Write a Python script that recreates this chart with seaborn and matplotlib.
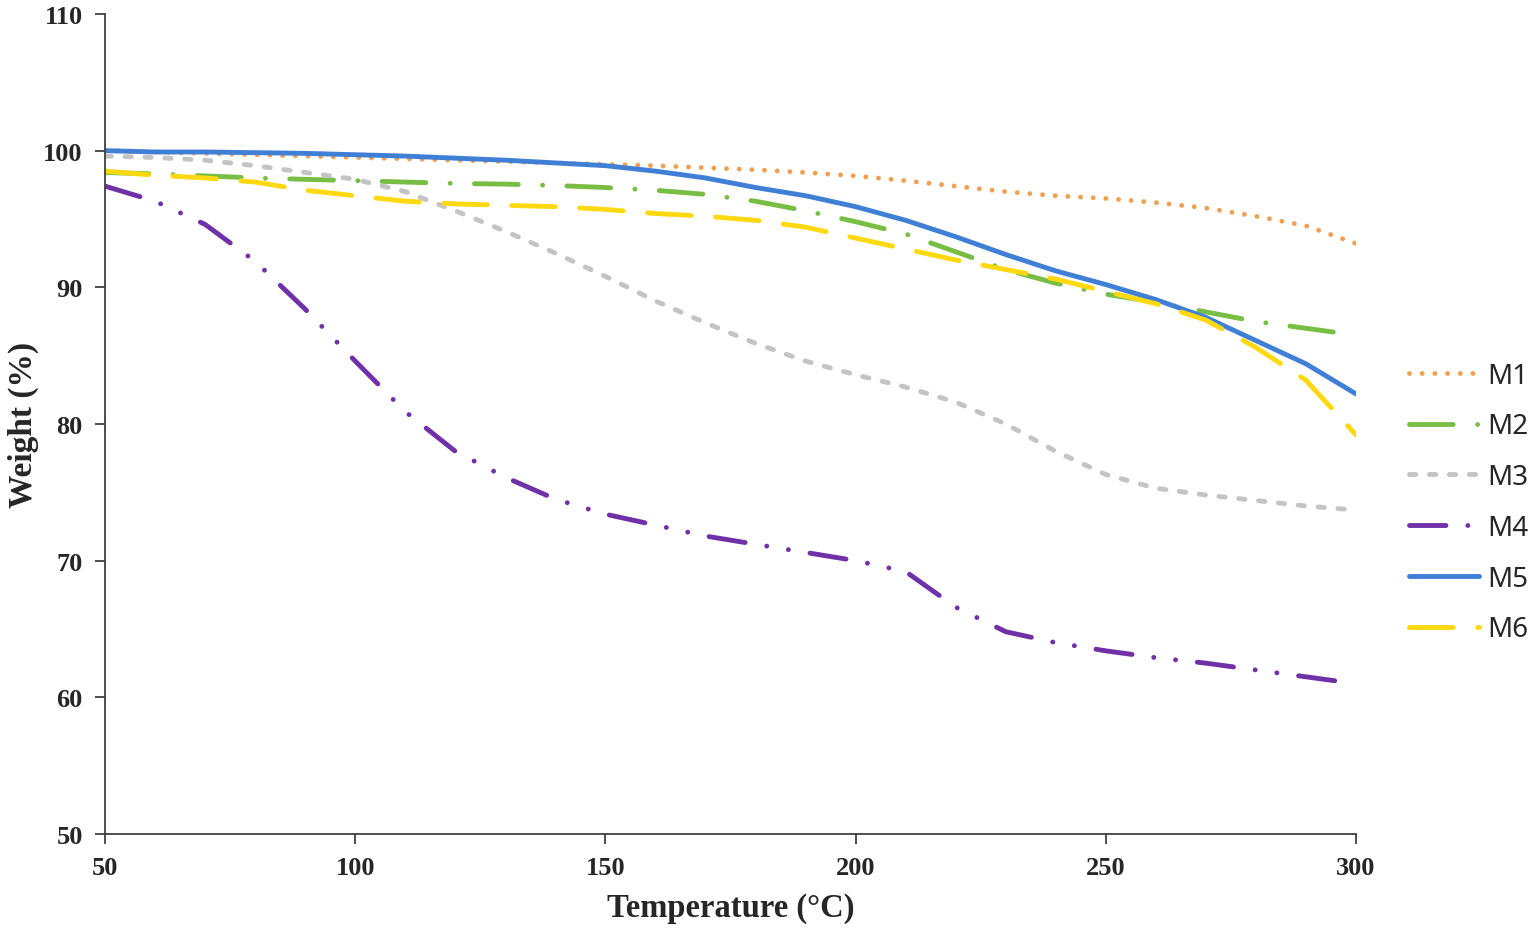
import matplotlib
matplotlib.use("Agg")
import matplotlib.pyplot as plt
import numpy as np
import pandas as pd
import seaborn as sns

# temperature (°C) and weight (%)
temp = [50, 60, 70, 80, 90, 100, 110, 120, 130, 140, 150, 160, 170,
        180, 190, 200, 210, 220, 230, 240, 250, 260, 270, 280, 290, 300]

m1 = [100.0, 99.9, 99.8, 99.7, 99.6, 99.5, 99.4, 99.3, 99.2, 99.1, 99.0, 98.9, 98.75,
      98.6, 98.4, 98.15, 97.8, 97.4, 97.0, 96.7, 96.5, 96.2, 95.8, 95.2, 94.5, 93.2]
m2 = [98.4, 98.3, 98.15, 98.0, 97.9, 97.8, 97.7, 97.6, 97.55, 97.45, 97.3, 97.1, 96.8,
      96.3, 95.6, 94.8, 93.9, 92.6, 91.3, 90.3, 89.5, 88.9, 88.2, 87.5, 87.0, 86.5]
m3 = [99.6, 99.5, 99.3, 98.9, 98.4, 97.9, 97.0, 95.6, 94.1, 92.5, 90.8, 89.0, 87.4,
      85.9, 84.6, 83.6, 82.7, 81.6, 80.0, 78.0, 76.3, 75.3, 74.8, 74.4, 74.0, 73.7]
m4 = [97.4, 96.3, 94.6, 91.9, 88.4, 84.6, 80.9, 78.0, 76.1, 74.5, 73.4, 72.6, 71.8,
      71.2, 70.6, 70.0, 69.2, 66.6, 64.8, 64.0, 63.4, 62.9, 62.5, 62.0, 61.5, 61.0]
m5 = [100.0, 99.9, 99.9, 99.85, 99.8, 99.7, 99.6, 99.45, 99.3, 99.1, 98.9, 98.5, 98.0,
      97.3, 96.7, 95.9, 94.9, 93.7, 92.4, 91.2, 90.2, 89.1, 87.8, 86.1, 84.4, 82.2]
m6 = [98.5, 98.2, 98.0, 97.7, 97.1, 96.7, 96.3, 96.1, 96.0, 95.9, 95.7, 95.4, 95.2,
      94.9, 94.4, 93.6, 92.8, 92.0, 91.3, 90.6, 89.7, 88.8, 87.6, 85.6, 83.2, 79.2]

names = ["M1", "M2", "M3", "M4", "M5", "M6"]
series = [m1, m2, m3, m4, m5, m6]

colors = {"M1": "#F0A052", "M2": "#78BE45", "M3": "#C4C4C4",
          "M4": "#7030A8", "M5": "#3F7FD6", "M6": "#FFD90F"}
dashes = {"M1": (0.01, 2.6),
          "M2": (9, 5, 0.01, 5),
          "M3": (1.3, 2.8),
          "M4": (7.5, 4.5, 0.01, 4.5, 0.01, 4.5),
          "M5": "",
          "M6": (9, 5)}

df = pd.DataFrame({
    "Temperature": np.tile(temp, len(names)),
    "Weight": np.concatenate(series),
    "sample": np.repeat(names, len(temp)),
})

sns.set_style("white")
plt.rcParams["lines.dash_capstyle"] = "round"
plt.rcParams["lines.solid_capstyle"] = "round"

fig = plt.figure(figsize=(15.36, 9.29), dpi=100)
ax = fig.add_axes([0.0684, 0.1012, 0.8144, 0.8827])

sns.lineplot(data=df, x="Temperature", y="Weight", hue="sample", style="sample",
             palette=colors, dashes=dashes, linewidth=3.5, ax=ax)

ax.set_xlim(50, 300)
ax.set_ylim(50, 110)
ax.set_xticks(range(50, 301, 50))
ax.set_yticks(range(50, 111, 10))

for side in ["top", "right"]:
    ax.spines[side].set_visible(False)
for side in ["left", "bottom"]:
    ax.spines[side].set_color("#404040")
    ax.spines[side].set_linewidth(1.3)
ax.tick_params(direction="out", length=7, width=1.3, color="#404040",
               bottom=True, left=True, pad=9)

serif = "Liberation Serif"
for lab in ax.get_xticklabels() + ax.get_yticklabels():
    lab.set_fontfamily(serif)
    lab.set_fontweight("bold")
    lab.set_fontsize(19)

ax.set_xlabel("Temperature (\u00b0C)", fontfamily=serif, fontweight="bold",
              fontsize=23.5, labelpad=9)
ax.set_ylabel("Weight (%)", fontfamily=serif, fontweight="bold",
              fontsize=24, labelpad=3)

leg = ax.legend(loc="center left", bbox_to_anchor=(0.917, 0.458),
                bbox_transform=fig.transFigure, frameon=False,
                fontsize=20, handlelength=2.55, handletextpad=0.3,
                labelspacing=0.82, borderpad=0, borderaxespad=0)
for t in leg.get_texts():
    t.set_fontfamily("Noto Sans")

fig.savefig("out.png", dpi=100)
